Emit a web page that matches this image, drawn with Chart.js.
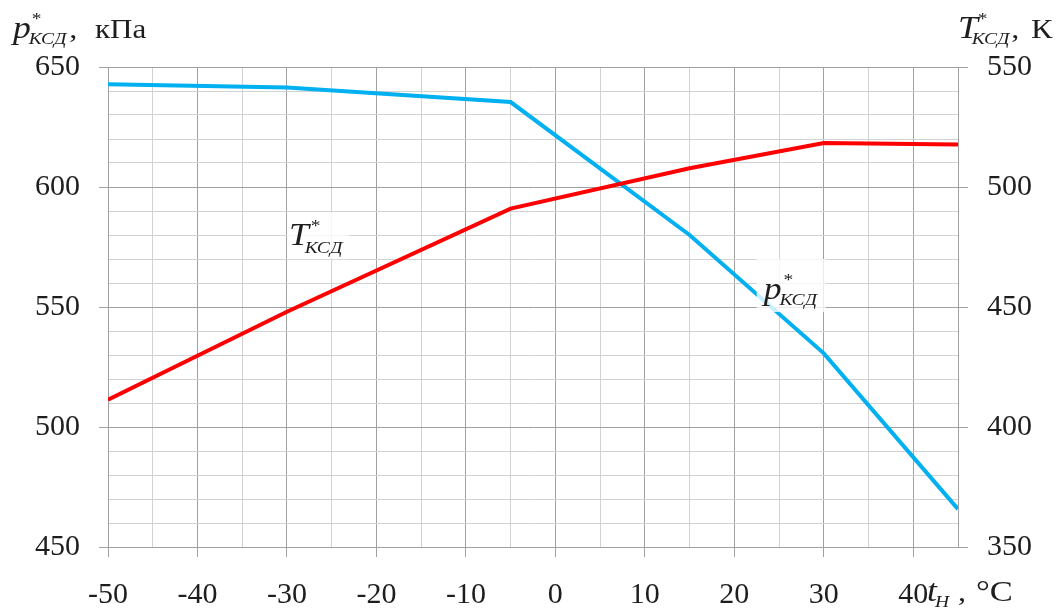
<!DOCTYPE html>
<html>
<head>
<meta charset="utf-8">
<script src="https://cdn.jsdelivr.net/npm/chart.js@4/dist/chart.umd.min.js"></script>
<style>
  html, body { margin: 0; padding: 0; background: #fff; }
  #chart { display: block; }
</style>
</head>
<body>
<canvas id="chart" width="1058" height="610"></canvas>
<script>
// outside air temperature, °C
const airTemp = [-50, -30, -5, 15, 30, 45];
// compressor delivery pressure, kPa (left axis)
const pressure = [642.8, 641.5, 635.4, 580, 530.7, 465.8];
// compressor delivery temperature, K (right axis)
const temperature = [411.4, 448, 491, 507.8, 518.3, 517.7];

const xLabels = [-50, -40, -30, -20, -10, 0, 10, 20, 30, 40];
const pressureLabels = [450, 500, 550, 600, 650];
const temperatureLabels = [350, 400, 450, 500, 550];

const MAJOR = "#a0a0a0";
const MINOR = "#d2d2d2";
const INK = "#1e1e1e";
const SERIF = '"Liberation Serif", "Times New Roman", serif';
const SX = 1.15; // the lettering is a little wide

function put(ctx, text, x, y, size, italic) {
    ctx.font = (italic ? "italic " : "") + size + "px " + SERIF;
    ctx.save();
    ctx.translate(x, y);
    ctx.scale(SX, 1);
    ctx.fillText(text, 0, 0);
    ctx.restore();
    return x + ctx.measureText(text).width * SX;
}

// italic symbol with an asterisk and a КСД subscript
function symbol(ctx, letter, x, y, subDx, starDx, subDy) {
    const end = put(ctx, letter, x, y, 31, true);
    put(ctx, "*", end + starDx, y - 14, 17, false);
    return put(ctx, "КСД", end + subDx, y + subDy, 17, true);
}

const labelsPlugin = {
    id: "labels",
    afterDatasetsDraw(chart) {
        const ctx = chart.ctx;
        const xs = chart.scales.x;
        const ys = chart.scales.y;
        ctx.save();
        ctx.textBaseline = "alphabetic";
        ctx.textAlign = "left";

        // curve captions on translucent white boxes
        ctx.fillStyle = "rgba(255,255,255,0.78)";
        const tx = xs.getPixelForValue(-30), ty = ys.getPixelForValue(589.5);
        ctx.fillRect(tx, ty, 62, 47);
        const px = xs.getPixelForValue(22.5), py = ys.getPixelForValue(570);
        ctx.fillRect(px, py, 69, 53);
        ctx.fillStyle = INK;
        symbol(ctx, "T", tx + 2, ty + 33, -4, 2, 8);
        symbol(ctx, "p", px + 7, py + 40, -2, 2, 6);

        // axis titles
        let e = symbol(ctx, "p", 13, 38, -2, 1, 6);
        put(ctx, ",", e + 3, 38, 28, false);
        put(ctx, "кПа", 95, 38, 27, false);

        e = symbol(ctx, "T", 958, 38, -6, 0, 6);
        put(ctx, ",", e + 2, 38, 28, false);
        put(ctx, "К", 1031, 38, 28, false);

        put(ctx, "t", 927, 601, 31, true);
        put(ctx, "H", 935, 607, 17, true);
        put(ctx, ",", 958, 601, 28, false);
        put(ctx, "°C", 976, 601, 30, false);
        ctx.restore();
    }
};

new Chart(document.getElementById("chart"), {
    type: "line",
    data: {
        datasets: [
            {
                label: "T*КСД",
                data: airTemp.map((t, i) => ({ x: t, y: temperature[i] })),
                yAxisID: "y1",
                borderColor: "#ff0000",
                borderWidth: 4,
                pointRadius: 0,
                tension: 0,
                order: 0,
            },
            {
                label: "p*КСД",
                data: airTemp.map((t, i) => ({ x: t, y: pressure[i] })),
                yAxisID: "y",
                borderColor: "#00b0f0",
                borderWidth: 4,
                pointRadius: 0,
                tension: 0,
                order: 1,
            },
        ],
    },
    options: {
        responsive: false,
        animation: false,
        devicePixelRatio: 1,
        layout: { padding: { top: 67, left: 0, right: 0, bottom: 0 } },
        plugins: {
            legend: { display: false },
            tooltip: { enabled: false },
        },
        scales: {
            x: {
                type: "linear",
                min: -50,
                max: 45,
                afterFit: (s) => { s.height = 63; },
                ticks: {
                    stepSize: 5,
                    autoSkip: false,
                    maxRotation: 0,
                    padding: 20,
                    color: INK,
                    font: { family: SERIF, size: 30 },
                    callback: (v) => (xLabels.includes(v) ? String(v) : ""),
                },
                grid: {
                    color: (c) => (c.tick && c.tick.value % 10 === 0 ? MAJOR : MINOR),
                    tickColor: (c) => (c.tick && xLabels.includes(c.tick.value) ? MAJOR : "transparent"),
                    tickLength: 10,
                },
                border: { display: true, color: MAJOR },
            },
            y: {
                position: "left",
                min: 450,
                max: 650,
                afterFit: (s) => { s.width = 108; },
                ticks: {
                    stepSize: 10,
                    autoSkip: false,
                    padding: 19,
                    color: INK,
                    font: { family: SERIF, size: 30 },
                    callback: (v) => (pressureLabels.includes(v) ? String(v) : ""),
                },
                grid: {
                    color: (c) => (c.tick && c.tick.value % 50 === 0 ? MAJOR : MINOR),
                    tickColor: (c) => (c.tick && pressureLabels.includes(c.tick.value) ? MAJOR : "transparent"),
                    tickLength: 9,
                },
                border: { display: true, color: MAJOR },
            },
            y1: {
                position: "right",
                min: 350,
                max: 550,
                afterFit: (s) => { s.width = 100; },
                ticks: {
                    stepSize: 50,
                    padding: 19,
                    color: INK,
                    font: { family: SERIF, size: 30 },
                    callback: (v) => (temperatureLabels.includes(v) ? String(v) : ""),
                },
                grid: {
                    drawOnChartArea: false,
                    color: MAJOR,
                    tickColor: MAJOR,
                    tickLength: 10,
                },
                border: { display: true, color: MAJOR },
            },
        },
    },
    plugins: [labelsPlugin],
});
</script>
</body>
</html>
